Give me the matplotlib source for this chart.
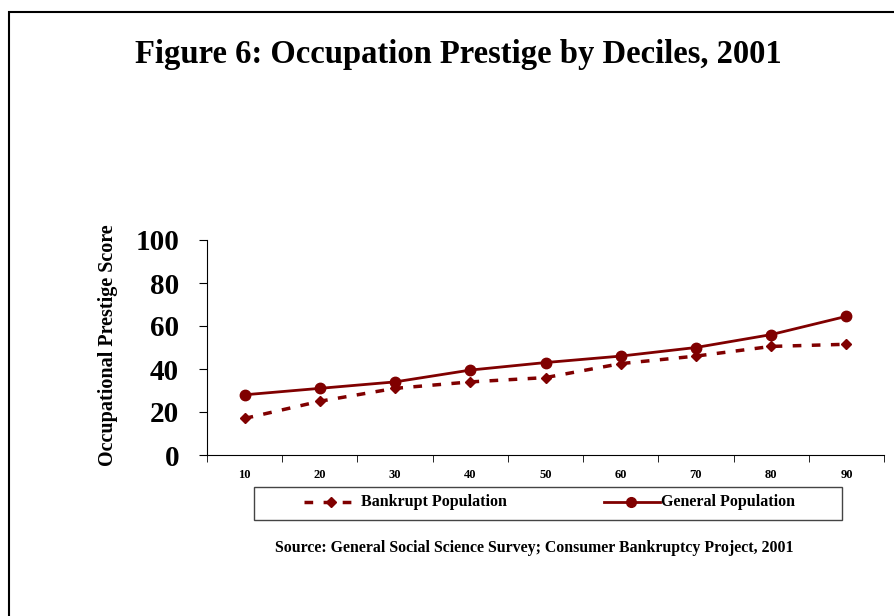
import matplotlib
matplotlib.use("Agg")
import matplotlib.pyplot as plt
from matplotlib.patches import Rectangle
from matplotlib.lines import Line2D

deciles = [10, 20, 30, 40, 50, 60, 70, 80, 90]
tick_labels = [str(d) for d in deciles]
bankrupt = [17, 25, 31, 34, 36, 42.5, 46, 50.5, 51.5]
general = [28, 31, 34, 39.5, 43, 46, 50, 56, 64.5]
yticks = [0, 20, 40, 60, 80, 100]

color = "#800000"
plt.rcParams['font.family'] = ['Liberation Serif', 'DejaVu Serif']
plt.rcParams['font.weight'] = 'bold'

W, H = 894, 616
fig = plt.figure(figsize=(W / 100, H / 100), dpi=100)

def fx(px):
    return px / W

def fy(py):
    return 1 - py / H

# outer frame
fig.patches.append(Rectangle((fx(9), fy(640)), fx(900) - fx(9), fy(12) - fy(640),
                             transform=fig.transFigure, fill=False, edgecolor='black', linewidth=1.5))

ax = fig.add_axes([fx(207), fy(455), fx(884) - fx(207), fy(240) - fy(455)])
x = list(range(len(deciles)))
ax.plot(x, bankrupt, color=color, linestyle=(0, (2.5, 3)), linewidth=2.5, marker='D', markersize=5.5)
ax.plot(x, general, color=color, linestyle='-', linewidth=2, marker='o', markersize=7.5)
ax.set_xlim(-0.5, len(deciles) - 0.5)
ax.set_ylim(0, 100)
ax.set_yticks(yticks)
ax.set_yticklabels([str(v) for v in yticks], fontsize=21, fontweight='bold')
ax.set_xticks(x)
ax.set_xticklabels(tick_labels, fontsize=9, fontweight='bold')
ax.set_xticks([i - 0.5 for i in range(len(deciles) + 1)], minor=True)
ax.tick_params(axis='x', which='major', length=0, pad=10)
ax.tick_params(axis='x', which='minor', length=5, direction='out')
ax.tick_params(axis='y', length=6, direction='out', pad=14)
ax.spines['top'].set_visible(False)
ax.spines['right'].set_visible(False)
ax.set_ylabel("Occupational Prestige Score", fontsize=14.5, fontweight='bold')
ax.yaxis.set_label_coords((118 - 207) / (884 - 207), 0.51)

fig.text(fx(458), fy(55), "Figure 6: Occupation Prestige by Deciles, 2001",
         ha='center', va='center', fontsize=23.5, fontweight='bold')

# legend box
fig.patches.append(Rectangle((fx(254), fy(520)), fx(842) - fx(254), fy(487) - fy(520),
                             transform=fig.transFigure, fill=False, edgecolor='#444444', linewidth=1))
ly = fy(502)
fig.lines.append(Line2D([fx(304), fx(360)], [ly, ly], transform=fig.transFigure, color=color,
                        linestyle=(0, (2.5, 3)), linewidth=2.5))
fig.lines.append(Line2D([fx(331)], [ly], transform=fig.transFigure, color=color, marker='D', markersize=5.5))
fig.text(fx(361), ly, "Bankrupt Population", ha='left', va='center', fontsize=11.5, fontweight='bold')
fig.lines.append(Line2D([fx(604), fx(660)], [ly, ly], transform=fig.transFigure, color=color,
                        linestyle='-', linewidth=2))
fig.lines.append(Line2D([fx(631)], [ly], transform=fig.transFigure, color=color, marker='o', markersize=7))
fig.text(fx(661), ly, "General Population", ha='left', va='center', fontsize=11.5, fontweight='bold')

fig.text(fx(534), fy(548), "Source: General Social Science Survey; Consumer Bankruptcy Project, 2001",
         ha='center', va='center', fontsize=11.4, fontweight='bold')

fig.savefig("out.png", dpi=100)
